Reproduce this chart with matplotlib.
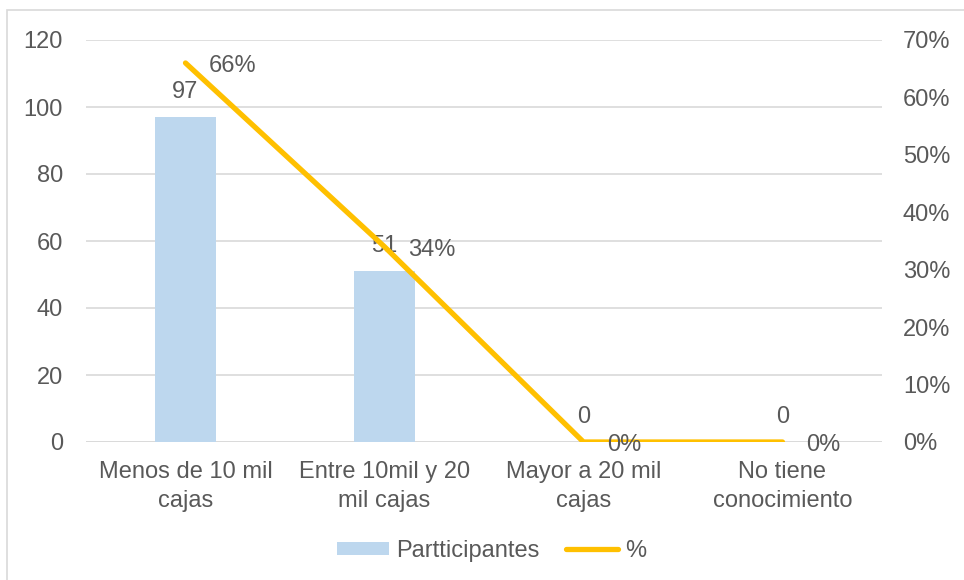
import matplotlib.pyplot as plt
from matplotlib.patches import Rectangle
from matplotlib.ticker import FuncFormatter

plt.rcParams['font.family'] = ['Liberation Sans', 'DejaVu Sans']

categorias = ['Menos de 10 mil\ncajas', 'Entre 10mil y 20\nmil cajas',
              'Mayor a 20 mil\ncajas', 'No tiene\nconocimiento']
participantes = [97, 51, 0, 0]
porcentaje = [0.66, 0.34, 0.0, 0.0]

gris = '#595959'
azul = '#BDD7EE'
oro = '#FFC000'
fs = 17

fig = plt.figure(figsize=(9.64, 5.8), dpi=100)
# marco del gráfico (solo se ven los bordes superior e izquierdo)
fig.patches.append(Rectangle((7 / 964, -0.1), 1.2, 1.1 - 10 / 580,
                             transform=fig.transFigure, fill=False,
                             edgecolor='#D9D9D9', linewidth=1.2))

ax = fig.add_axes([86 / 964, 138 / 580, 796 / 964, 402 / 580])
x = list(range(len(categorias)))
ax.bar(x, participantes, width=0.31, color=azul, zorder=2, label='Partticipantes')
ax.set_xlim(-0.5, 3.5)
ax.set_ylim(0, 120)
ax.set_yticks(range(0, 121, 20))
ax.yaxis.grid(True, color='#D9D9D9', linewidth=1.2, zorder=0)
ax.set_axisbelow(True)
ax.set_xticks(x)
ax.set_xticklabels(categorias, fontsize=fs, color=gris, linespacing=1.4)
ax.tick_params(axis='x', length=0, pad=14)
ax.tick_params(axis='y', length=0, pad=16.5, labelsize=fs, labelcolor=gris)
for s in ax.spines.values():
    s.set_visible(False)
ax.axhline(0, color='#D9D9D9', linewidth=1.2, zorder=1)

for xi, v in zip(x, participantes):
    ax.annotate(f'{v}', (xi, v), xytext=(0, 10), textcoords='offset points',
                ha='center', va='bottom', fontsize=fs, color=gris)

ax2 = ax.twinx()
ax2.plot(x, porcentaje, color=oro, linewidth=3.8, solid_capstyle='round',
         zorder=3, label='%')
ax2.set_ylim(0, 0.70)
ax2.set_yticks([i / 10 for i in range(8)])
ax2.yaxis.set_major_formatter(FuncFormatter(lambda v, p: f'{v * 100:.0f}%'))
ax2.tick_params(axis='y', length=0, pad=15, labelsize=fs, labelcolor=gris)
for s in ax2.spines.values():
    s.set_visible(False)

for xi, p in zip(x, porcentaje):
    ax2.annotate(f'{p * 100:.0f}%', (xi, p), xytext=(17, -2), textcoords='offset points',
                 ha='left', va='center', fontsize=fs, color=gris)

h1, l1 = ax.get_legend_handles_labels()
h2, l2 = ax2.get_legend_handles_labels()
fig.legend(h1 + h2, l1 + l2, loc='center', bbox_to_anchor=(0.51, 0.05), ncol=2,
           frameon=False, fontsize=fs, labelcolor=gris, handlelength=2.2,
           handleheight=0.5, columnspacing=1.1, handletextpad=0.3)

fig.savefig('out.png', dpi=100)
